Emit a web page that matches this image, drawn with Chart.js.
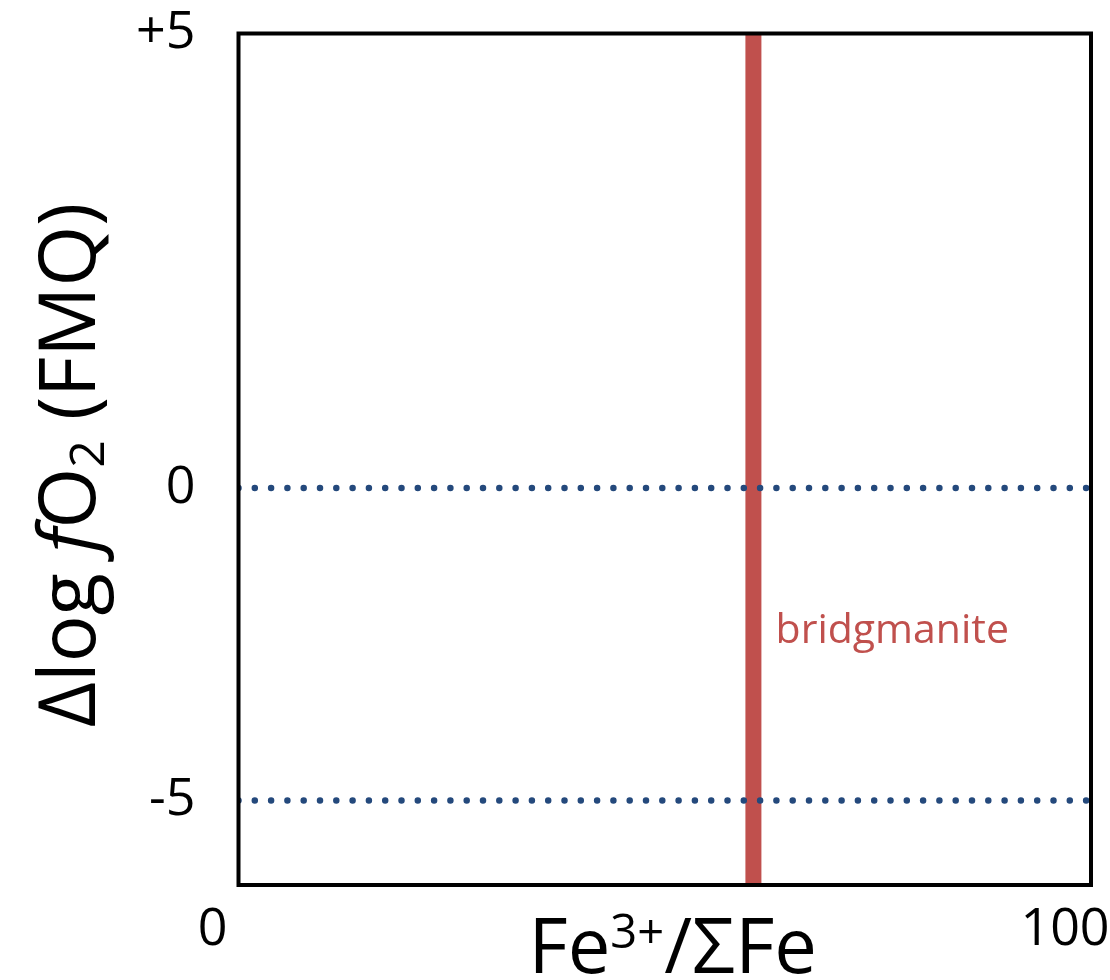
<!DOCTYPE html>
<html>
<head>
<meta charset="utf-8">
<script src="https://cdn.jsdelivr.net/npm/chart.js@4/dist/chart.umd.min.js"></script>
<style>
  html, body { margin:0; padding:0; background:#fff; }
  canvas { display:block; }
</style>
</head>
<body>
<canvas id="chart" width="1110" height="980"></canvas>
<script>
// ---------- DATA ----------
const xRange       = [0, 100];            // Fe3+/ΣFe (%)
const xTickValues  = [0, 100];
const yRange       = [-6.35, 7.27];       // schematic axis, top edge is labelled +5
const yTickValues  = [7.27, 0, -5];
const yTickLabels  = ['+5', '0', '-5'];
const dottedLevels = [0, -5];             // ΔlogfO2 reference lines
const bridgmaniteX = 60.4;
const labelText    = 'bridgmanite';
const labelPos     = { x: 63, y: -2.3 };

// ---------- STYLE ----------
const FONT   = '"Open Sans", "Noto Sans", sans-serif';
const RED    = '#c0504d';
const BLUE   = '#24497c';

// ---------- datasets ----------
const datasets = dottedLevels.map(y => ({
  data: [{ x: xRange[0], y }, { x: xRange[1], y }],
  borderColor: BLUE,
  borderWidth: 6.5,
  borderDash: [0, 16.3],
  borderCapStyle: 'round',
  pointRadius: 0
}));

datasets.push({
  data: [{ x: bridgmaniteX, y: yRange[0] }, { x: bridgmaniteX, y: yRange[1] }],
  borderColor: RED,
  borderWidth: 16,
  borderCapStyle: 'butt',
  pointRadius: 0
});

/* helper: draw text made of parts (normal / italic / sup / sub), centred on 0 */
function drawRich (ctx, parts, size) {
  const fontOf = p => `${p.italic ? 'italic ' : ''}${p.sup || p.sub ? size * 0.62 : size}px ${FONT}`;
  let total = 0;
  parts.forEach(p => { ctx.font = fontOf(p); p.w = ctx.measureText(p.t).width; total += p.w; });
  let x = -total / 2;
  ctx.textBaseline = 'alphabetic';
  ctx.textAlign = 'left';
  parts.forEach(p => {
    ctx.font = fontOf(p);
    const dy = p.sup ? -size * 0.33 : p.sub ? size * 0.12 : 0;
    ctx.fillText(p.t, x, dy);
    x += p.w;
  });
}

const decorations = {
  id: 'decorations',
  afterDatasetsDraw (chart) {
    const { ctx, chartArea: a, scales } = chart;
    ctx.save();

    // frame
    ctx.strokeStyle = '#000';
    ctx.lineWidth = 4;
    ctx.strokeRect(a.left, a.top, a.right - a.left, a.bottom - a.top);

    // line label
    ctx.fillStyle = RED;
    ctx.font = `41px ${FONT}`;
    ctx.textAlign = 'left';
    ctx.textBaseline = 'middle';
    ctx.fillText(labelText, scales.x.getPixelForValue(labelPos.x), scales.y.getPixelForValue(labelPos.y));

    // axis titles
    ctx.fillStyle = '#000';
    ctx.save();
    ctx.translate((a.left + a.right) / 2 + 8, 973);
    drawRich(ctx, [{ t: 'Fe' }, { t: '3+', sup: true }, { t: '/ΣFe' }], 76);
    ctx.restore();

    ctx.save();
    ctx.translate(95, 465);
    ctx.rotate(-Math.PI / 2);
    drawRich(ctx, [{ t: 'Δlog ' }, { t: 'f', italic: true }, { t: 'O' }, { t: '2', sub: true }, { t: ' (FMQ)' }], 78);
    ctx.restore();

    ctx.restore();
  }
};

// keep the tick labels from pushing the plot area around
const noPad = s => { s.paddingTop = 0; s.paddingBottom = 0; s.paddingLeft = 0; s.paddingRight = 0; };

new Chart(document.getElementById('chart'), {
  type: 'line',
  data: { datasets },
  plugins: [decorations],
  options: {
    responsive: false,
    animation: false,
    layout: { padding: { top: 33.5, right: 19, left: 0, bottom: 0 } },
    plugins: { legend: { display: false }, tooltip: { enabled: false } },
    scales: {
      x: {
        type: 'linear',
        min: xRange[0], max: xRange[1],
        afterBuildTicks: s => { s.ticks = xTickValues.map(v => ({ value: v })); },
        afterFit: s => { s.height = 95; noPad(s); },
        grid: { display: false, drawTicks: false },
        border: { display: false },
        ticks: {
          padding: 14,
          labelOffset: -26,
          maxRotation: 0,
          autoSkip: false,
          color: '#000',
          font: { family: FONT, size: 52 }
        }
      },
      y: {
        type: 'linear',
        min: yRange[0], max: yRange[1],
        afterBuildTicks: s => { s.ticks = yTickValues.map(v => ({ value: v })); },
        afterFit: s => { s.width = 238.5; noPad(s); },
        grid: { display: false, drawTicks: false },
        border: { display: false },
        ticks: {
          padding: 43,
          autoSkip: false,
          color: '#000',
          font: { family: FONT, size: 52 },
          callback: v => yTickLabels[yTickValues.indexOf(v)]
        }
      }
    }
  }
});
</script>
</body>
</html>
